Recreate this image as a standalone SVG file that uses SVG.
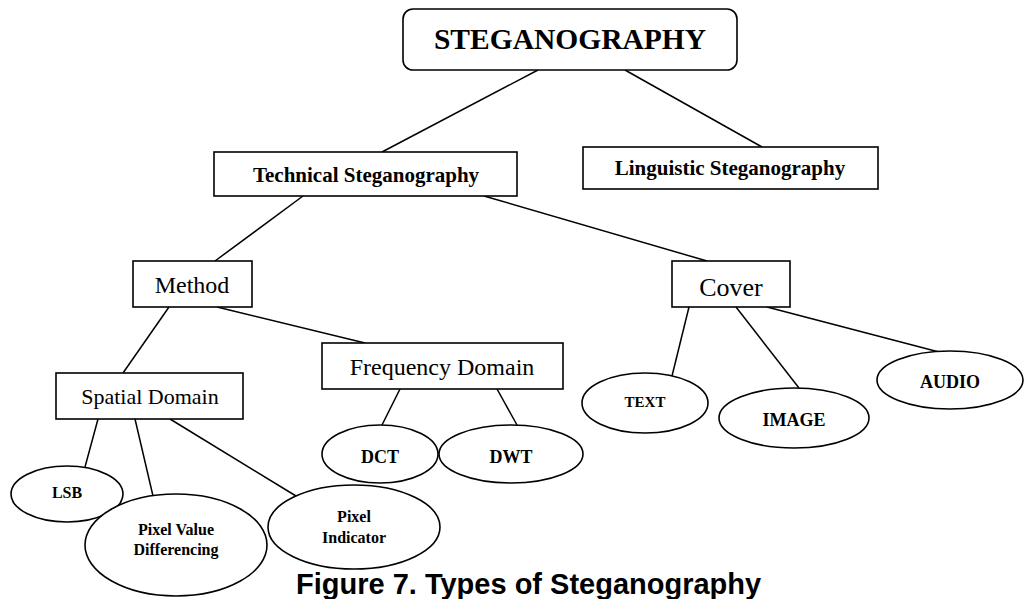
<svg xmlns="http://www.w3.org/2000/svg" width="1027" height="599" viewBox="0 0 1027 599">
<style>
.bx{fill:#fff;stroke:#000;stroke-width:1.6}
.el{fill:#fff;stroke:#000;stroke-width:1.6}
.cn line{stroke:#000;stroke-width:1.5}
.t{font-family:"Liberation Serif","Times New Roman",serif;fill:#000;text-anchor:middle}
.b{font-weight:bold}
.cap{font-family:"Liberation Sans",Arial,sans-serif;font-weight:bold;font-size:29px;fill:#000}
</style>
<rect width="1027" height="599" fill="#fff"/>
<g id="connectors" class="cn">
<line x1="538" y1="70" x2="382" y2="152"/>
<line x1="625" y1="70" x2="762" y2="147"/>
<line x1="303" y1="196" x2="215" y2="261"/>
<line x1="484" y1="196" x2="707" y2="261"/>
<line x1="169" y1="307" x2="123" y2="373"/>
<line x1="217" y1="307" x2="365" y2="343"/>
<line x1="689" y1="307" x2="672" y2="376"/>
<line x1="736" y1="307" x2="799" y2="388"/>
<line x1="767" y1="307" x2="939" y2="352"/>
<line x1="400" y1="389" x2="382" y2="425"/>
<line x1="497" y1="389" x2="517" y2="425"/>
<line x1="98" y1="419" x2="85" y2="467"/>
<line x1="135" y1="419" x2="153" y2="496"/>
<line x1="170" y1="419" x2="296" y2="496"/>
</g>
<g id="steganography">
<rect class="bx" x="403" y="9" width="334" height="61" rx="10"/>
<text class="t b" x="570" y="49" font-size="29.5">STEGANOGRAPHY</text>
</g>
<g id="technical">
<rect class="bx" x="214" y="152" width="303" height="44"/>
<text class="t b" x="366" y="182" font-size="21">Technical Steganography</text>
</g>
<g id="linguistic">
<rect class="bx" x="583" y="147" width="295" height="42"/>
<text class="t b" x="730" y="175" font-size="21">Linguistic Steganography</text>
</g>
<g id="method">
<rect class="bx" x="133" y="261" width="119" height="46"/>
<text class="t" x="192" y="293" font-size="24">Method</text>
</g>
<g id="cover">
<rect class="bx" x="672" y="261" width="118" height="46"/>
<text class="t" x="731" y="296" font-size="26">Cover</text>
</g>
<g id="spatial">
<rect class="bx" x="56" y="373" width="187" height="46"/>
<text class="t" x="150" y="404" font-size="22">Spatial Domain</text>
</g>
<g id="frequency">
<rect class="bx" x="322" y="343" width="241" height="46"/>
<text class="t" x="442" y="375" font-size="24">Frequency Domain</text>
</g>
<g id="text-node">
<ellipse class="el" cx="645" cy="403" rx="63" ry="30"/>
<text class="t b" x="645" y="407" font-size="15">TEXT</text>
</g>
<g id="image-node">
<ellipse class="el" cx="794" cy="418" rx="75" ry="30"/>
<text class="t b" x="794" y="426" font-size="18">IMAGE</text>
</g>
<g id="audio-node">
<ellipse class="el" cx="950" cy="380" rx="73" ry="29"/>
<text class="t b" x="950" y="388" font-size="18">AUDIO</text>
</g>
<g id="lsb">
<ellipse class="el" cx="67" cy="494" rx="56" ry="28"/>
<text class="t b" x="67" y="498" font-size="16">LSB</text>
</g>
<g id="pvd">
<ellipse class="el" cx="176" cy="545" rx="91" ry="51"/>
<text class="t b" x="176" y="535" font-size="16">Pixel Value</text>
<text class="t b" x="176" y="555" font-size="16">Differencing</text>
</g>
<g id="pixel-indicator">
<ellipse class="el" cx="354" cy="527" rx="86" ry="42"/>
<text class="t b" x="354" y="522" font-size="16">Pixel</text>
<text class="t b" x="354" y="543" font-size="16">Indicator</text>
</g>
<g id="dct">
<ellipse class="el" cx="380" cy="454" rx="58" ry="29"/>
<text class="t b" x="380" y="463" font-size="18">DCT</text>
</g>
<g id="dwt">
<ellipse class="el" cx="511" cy="454" rx="72" ry="29"/>
<text class="t b" x="511" y="463" font-size="18">DWT</text>
</g>
<text class="cap" x="296" y="594">Figure 7. Types of Steganography</text>
</svg>
